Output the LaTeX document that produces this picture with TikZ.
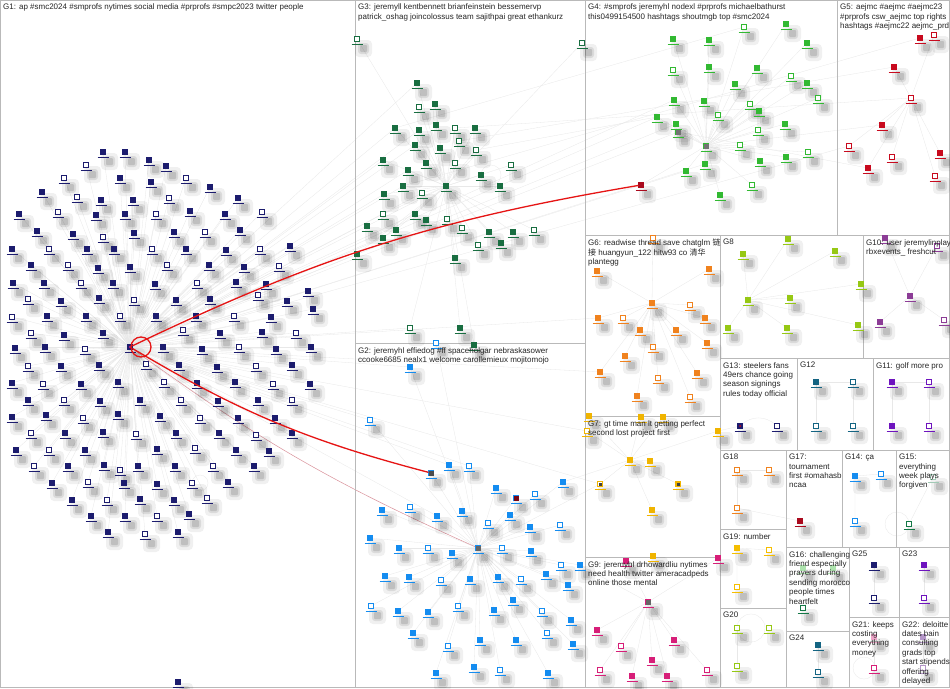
\documentclass[tikz,border=0pt]{standalone}
\usepackage{fontspec}
\setmainfont{Liberation Sans}
\newfontfamily\cjk{Noto Sans CJK SC}
\usetikzlibrary{backgrounds}
\definecolor{frame}{RGB}{185,185,185}
\definecolor{gA}{RGB}{28,28,110}
\definecolor{gB}{RGB}{20,140,240}
\definecolor{gC}{RGB}{25,110,65}
\definecolor{gD}{RGB}{50,185,50}
\definecolor{gE}{RGB}{200,10,30}
\definecolor{gF}{RGB}{240,130,30}
\definecolor{gG}{RGB}{240,180,0}
\definecolor{gH}{RGB}{150,200,20}
\definecolor{gI}{RGB}{215,30,120}
\definecolor{gJ}{RGB}{140,60,150}
\definecolor{gK}{RGB}{20,100,130}
\definecolor{gL}{RGB}{110,20,190}
\definecolor{gM}{RGB}{170,10,30}
\definecolor{gN}{RGB}{20,120,70}
\definecolor{gO}{RGB}{245,190,0}
\definecolor{gP}{RGB}{180,150,200}
\definecolor{redge}{RGB}{230,20,20}
\tikzset{
  vx/.style={rectangle,draw=#1,fill=#1,line width=.8pt,minimum size=5pt,inner sep=0pt,outer sep=0pt},
  lab/.style={anchor=north west,align=left,inner sep=0pt,font=\fontsize{8}{9.4}\selectfont,text=black!85},
  ed/.style={draw=black!9,line width=.3pt},
  rededge/.style={draw=redge,line width=1.3pt},
  frm/.style={draw=frame,line width=1pt},
}
\newcommand\V[5]{%
  \fill[black,opacity=.06,rounded corners=4pt] (#2-2,#3+1) rectangle (#2+15,#3+18);
  \fill[black,opacity=.09,rounded corners=3pt] (#2+1,#3+4) rectangle (#2+12,#3+15);
  \fill[black,opacity=.12,rounded corners=1pt] (#2+3,#3+6) rectangle (#2+10,#3+13);
  \draw[#4,line width=1pt] (#2-5.5,#3+5) -- (#2+5.5,#3+5);
  \ifnum#5=1\relax
    \node[vx=#4,fill=white] (#1) at (#2,#3) {};
  \else
    \node[vx=#4] (#1) at (#2,#3) {};
  \fi}
\newcommand\Lab[6]{%
  \begin{scope}
    \clip (#2,#3) rectangle (#4,#5);
    \node[lab] (#1) at (#2+3,#3+4) {#6};
  \end{scope}}
\begin{document}
\begin{tikzpicture}[x=1pt,y=-1pt]
\useasboundingbox (0,0) rectangle (950,688);
% frames
\draw[frm] (0.5,0.5) rectangle (949.5,687.5);
\draw[frm] (355,0) -- (355,688);
\draw[frm] (585,0) -- (585,688);
\draw[frm] (355,343) -- (585,343);
\draw[frm] (837,0) -- (837,235);
\draw[frm] (585,235) -- (950,235);
\draw[frm] (720,235) -- (720,688);
\draw[frm] (863,235) -- (863,358);
\draw[frm] (720,358) -- (950,358);
\draw[frm] (585,416) -- (720,416);
\draw[frm] (585,557) -- (720,557);
\draw[frm] (797,358) -- (797,450);
\draw[frm] (873,358) -- (873,450);
\draw[frm] (720,450) -- (950,450);
\draw[frm] (786,450) -- (786,688);
\draw[frm] (720,529) -- (786,529);
\draw[frm] (720,608) -- (786,608);
\draw[frm] (842,450) -- (842,547);
\draw[frm] (896,450) -- (896,547);
\draw[frm] (786,547) -- (950,547);
\draw[frm] (849,547) -- (849,688);
\draw[frm] (899,547) -- (899,688);
\draw[frm] (849,617) -- (950,617);
\draw[frm] (786,631) -- (849,631);

% ---------- G1 ----------
\foreach \x/\y [count=\i] in {103/152,125/152,86/165,149/160,166/166,64/178,120/178,151/182,186/178,210/187,
42/192,77/197,101/200,133/200,169/198,238/198,
19/214,58/212,96/215,125/214,156/214,190/211,225/214,262/212,
37/231,73/234,103/237,134/233,174/232,205/232,240/230,
12/249,49/249,87/249,114/249,152/249,186/249,226/250,260/249,290/246,
31/265,68/265,98/268,130/267,167/265,209/265,244/267,279/266,
13/283,44/283,81/283,113/283,155/284,197/283,236/282,266/284,
28/299,61/301,99/298,134/300,176/300,210/299,258/295,287/301,308/291,
12/317,47/316,86/316,120/316,156/316,196/316,234/316,271/317,313/309,
31/333,64/335,103/333,183/330,220/333,262/332,296/333,
15/348,45/347,85/349,163/347,202/349,239/347,276/349,311/347,
28/366,61/366,99/365,146/364,179/365,217/367,256/366,292/365,
12/383,43/384,81/384,118/382,164/382,197/383,235/382,273/384,310/384,
28/400,64/400,100/401,140/400,181/400,218/401,258/400,292/400,
12/417,46/415,83/418,118/414,160/416,200/418,238/418,275/418,
31/433,65/433,103/432,136/434,176/433,219/433,256/435,292/433,
16/450,49/450,85/450,157/449,195/448,236/450,269/451,
34/466,68/466,104/465,120/470,138/466,175/466,213/466,254/466,
52/483,88/482,124/483,157/484,192/483,228/482,
72/500,107/500,140/499,174/500,207/498,
91/516,125/516,157/516,189/514,
108/532,145/534,178/532,178/682}
{\pgfmathtruncatemacro\k{mod(\i,3)==0}\V{a\i}{\x}{\y}{gA}{\k}}
\V{hub}{130}{347}{gA}{0}
\fill[gI] (hub.center) circle (1.1pt);

% ---------- G3 ----------
\foreach \x/\y [count=\i] in {357/39,417/83,435/104,419/107,395/128,436/125,455/128,419/130,475/128,476/150,
415/145,440/148,459/141,383/160,426/163,455/163,408/170,481/175,511/165,384/194,
403/186,422/193,446/186,500/186,383/214,415/214,426/220,447/219,367/226,396/230,
462/228,489/232,513/232,534/230,357/254,383/238,478/245,501/243,455/258,410/328,
460/328,474/345,582/43}
{\pgfmathtruncatemacro\k{mod(\i,3)==1}\V{c\i}{\x}{\y}{gC}{\k}}

% ---------- G4 ----------
\foreach \x/\y [count=\i] in {673/39,709/40,744/27,786/24,807/43,673/70,709/67,757/68,791/76,735/84,
807/83,818/98,674/100,704/101,750/104,657/117,676/124,718/115,759/111,785/124,
758/130,678/132,706/146,740/145,760/161,786/157,808/152,686/171,705/164,752/185,720/195}
{\pgfmathtruncatemacro\k{mod(\i,3)==0}\V{d\i}{\x}{\y}{gD}{\k}}
\V{d32}{641}{185}{gM}{0}
\fill[black!55] ([shift={(-2.5,-2.5)}]d22.center) rectangle ([shift={(2.5,2.5)}]d22.center);
\fill[black!55] ([shift={(-2.5,-2.5)}]d23.center) rectangle ([shift={(2.5,2.5)}]d23.center);

% ---------- G5 ----------
\foreach \x/\y [count=\i] in {920/38,934/35,894/67,911/98,882/125,849/146,940/153,892/157,868/168,935/176}
{\pgfmathtruncatemacro\k{mod(\i,2)==0}\V{e\i}{\x}{\y}{gE}{\k}}

% ---------- G6 ----------
\foreach \x/\y [count=\i] in {597/271,709/269,653/238,652/303,598/318,623/318,640/330,676/330,690/305,705/318,
707/343,653/347,625/356,600/372,658/378,697/373,637/396,690/397}
{\pgfmathtruncatemacro\k{mod(\i,3)==0}\V{f\i}{\x}{\y}{gF}{\k}}

% ---------- G7 ----------
\foreach \x/\y [count=\i] in {589/416,641/417,663/417,587/431,718/431,630/460,650/461,600/484,678/484,652/510,653/556}
{\pgfmathtruncatemacro\k{mod(\i,4)==0}\V{g\i}{\x}{\y}{gG}{\k}}
\fill[black!75] ([shift={(-1.5,-1.5)}]g8.center) rectangle ([shift={(1.5,1.5)}]g8.center);
\fill[black!75] ([shift={(-1.5,-1.5)}]g9.center) rectangle ([shift={(1.5,1.5)}]g9.center);

% ---------- G2 ----------
\foreach \x/\y [count=\i] in {410/367,370/420,431/473,449/465,469/466,496/488,516/498,535/494,563/482,382/510,
410/507,437/516,462/511,488/523,510/515,530/527,560/525,370/538,399/548,428/548,
452/553,478/548,502/548,531/551,580/565,561/565,385/576,409/577,441/580,470/579,
498/577,521/579,546/574,568/585,371/606,398/611,428/612,458/606,494/610,513/600,
542/611,571/620,413/633,448/646,480/640,516/640,547/633,573/644,474/667,500/670,
436/673,548/673,436/343}
{\pgfmathtruncatemacro\k{mod(\i,3)==2}\V{b\i}{\x}{\y}{gB}{\k}}
\fill[black!70] ([shift={(-2.5,-2.5)}]b3.center) rectangle ([shift={(2.5,2.5)}]b3.center);
\fill[gM!70!black] ([shift={(-2.5,-2.5)}]b7.center) rectangle ([shift={(2.5,2.5)}]b7.center);
\fill[black!60] ([shift={(-2.5,-2.5)}]b22.center) rectangle ([shift={(2.5,2.5)}]b22.center);

% ---------- G9 ----------
\foreach \x/\y [count=\i] in {648/602,597/630,621/646,652/660,674/640,600/670,632/676,667/676,707/670,718/558,626/561}
{\pgfmathtruncatemacro\k{mod(\i,3)==0}\V{i\i}{\x}{\y}{gI}{\k}}
\fill[black!60] ([shift={(-2.5,-2.5)}]i1.center) rectangle ([shift={(2.5,2.5)}]i1.center);

% ---------- G8, G10 ----------
\foreach \x/\y [count=\i] in {743/254,788/239,835/251,861/284,748/300,790/298,728/328,787/328,858/325}
{\V{h\i}{\x}{\y}{gH}{0}}
\foreach \x/\y [count=\i] in {885/238,937/246,910/296,944/320,880/322}
{\pgfmathtruncatemacro\k{mod(\i,2)==0}\V{j\i}{\x}{\y}{gJ}{\k}}

% ---------- small groups ----------
\V{m1}{740}{426}{gA}{0}\fill[gE] (m1.center) circle (1pt);
\V{m2}{777}{426}{gA}{1}
\V{p1}{816}{382}{gK}{0}\V{p2}{853}{382}{gK}{1}\V{p3}{816}{426}{gK}{1}\V{p4}{853}{426}{gK}{1}
\V{q1}{892}{382}{gL}{0}\V{q2}{929}{382}{gL}{1}\V{q3}{892}{426}{gL}{0}\V{q4}{929}{426}{gL}{1}
\V{r1}{737}{470}{gF}{1}\V{r2}{769}{470}{gF}{1}\V{r3}{737}{508}{gF}{1}
\V{s1}{800}{521}{gM}{0}
\V{t1}{855}{476}{gB}{0}\V{t2}{881}{474}{gB}{1}\V{t3}{855}{521}{gB}{1}
\V{u1}{909}{524}{gN}{1}\V{u2}{933}{477}{gN!40}{1}
\V{v1}{737}{548}{gO}{0}\V{v2}{769}{550}{gO}{1}\V{v3}{737}{587}{gO}{1}
\V{w1}{737}{628}{gH}{1}\V{w2}{769}{628}{gH}{1}\V{w3}{737}{666}{gH}{1}
\V{x1}{803}{608}{gN}{1}\V{x2}{803}{568}{gD!40}{0}\V{x3}{833}{568}{gD!40}{0}
\V{y1}{818}{645}{gK}{0}\V{y2}{818}{672}{gK}{1}
\V{z1}{874}{565}{gA}{0}\V{z2}{874}{598}{gA}{1}
\V{k1}{924}{565}{gL}{0}\V{k2}{924}{598}{gL}{1}
\V{l1}{874}{668}{gI}{1}\V{l2}{874}{637}{gI!40}{0}
\V{n1}{923}{668}{gP}{1}\V{n2}{923}{637}{gP}{0}

% ---------- edges ----------
\begin{pgfonlayer}{background}
\fill[white] (0,0) rectangle (950,688);
\foreach \i in {1,...,163} {\draw[ed] (hub) -- (a\i);}
\foreach \t in {c2,c5,c8,c11,c14,c17,c20,c21,c25,c29,c35,c36,c22,c26,d13,d16,d17,d22,d28,d29,b1,b2,b4,b5,b12,g4,g8,f5,f14,e6,c40}
  {\draw[ed] (hub) -- (\t);}
\foreach \i in {1,...,22,24,25,...,43} {\draw[ed] (c23) -- (c\i);}
\foreach \i in {1,...,22,24,25,...,32} {\draw[ed] (d23) -- (d\i);}
\foreach \i in {1,...,21,23,24,...,53} {\draw[ed] (b22) -- (b\i);}
\foreach \i in {1,2,3,5,6,...,18} {\draw[ed] (f4) -- (f\i);}
\foreach \i in {2,...,11} {\draw[ed] (i1) -- (i\i);}
\foreach \i in {1,2,3,4,6,7,8,9} {\draw[ed] (h5) -- (h\i);}
\foreach \i in {1,2,4,5} {\draw[ed] (j3) -- (j\i);}
\foreach \i in {2,...,10} {\draw[ed] (e4) -- (e\i);}
\foreach \i in {1,...,5,7,8,9,10} {\draw[ed] (g6) -- (g\i);}
\draw[ed] (c21) -- (e1);
\draw[ed] (c13) -- (e3);
\draw[ed] (c5) -- (d3);
\draw[ed] (c7) -- (e4);
\draw[ed] (d23) -- (e5);
\draw[ed] (d22) -- (e9);
\draw[ed] (c10) -- (d16);
\draw[ed] (b22) -- (g8);
\draw[ed] (b9) -- (g6);
\draw[ed] (b25) -- (i1);
\draw[ed] (g5) -- (m1);
\draw[ed] (p1) -- (p2) (p1) -- (p3) (p2) -- (p4);
\draw[ed] (q1) -- (q2) (q1) -- (q3) (q2) -- (q4);
\draw[ed] (m1) to[bend left=40] (m2);
\draw[ed] (r1) -- (r2) (r1) -- (r3);
\draw[ed] (r3) -- (s1);
\draw[ed] (t1) -- (t2) (t1) -- (t3);
\draw[ed] (u1) -- (u2);
\draw[ed] (v1) -- (v2) (v1) -- (v3);
\draw[ed] (w1) -- (w3);
\draw[ed] (y1) -- (y2);
\draw[ed] (z1) -- (z2);
\draw[ed] (k1) -- (k2);
\draw[ed] (l1) -- (l2);
\draw[ed] (n1) -- (n2);
\draw[ed] (x1) -- (x2) (x1) -- (x3);
\draw[ed] ([xshift=8pt]a150.center) circle (8pt);
\draw[ed] ([xshift=10pt]c18.center) circle (10pt);
\draw[ed] ([xshift=14pt]w1.center) circle (14pt);
\draw[ed] ([xshift=-10pt]l1.center) circle (11pt);
\draw[ed] ([xshift=-12pt]u1.center) circle (12pt);
\draw[draw=gM!45,line width=.5pt] (hub) to[bend right=6] (b22);
\end{pgfonlayer}
\draw[rededge] (hub) to[bend left=8] (d32);
\draw[rededge] (hub) to[bend right=8] (b3);
\draw[rededge] ([xshift=11pt]hub.center) circle (10pt);

% ---------- labels ----------
\Lab{tG1}{0}{0}{355}{343}{G1: ap \#smc2024 \#smprofs nytimes social media \#prprofs \#smpc2023 twitter people}
\Lab{tG3}{355}{0}{585}{343}{G3: jeremyll kentbennett brianfeinstein bessemervp\\patrick\_oshag joincolossus team sajithpai great ethankurz}
\Lab{tG4}{585}{0}{837}{235}{G4: \#smprofs jeremyhl nodexl \#prprofs michaelbathurst\\this0499154500 hashtags shoutmgb top \#smc2024}
\Lab{tG5}{837}{0}{949}{235}{G5: aejmc \#aejmc \#aejmc23\\\#prprofs csw\_aejmc top rights\\hashtags \#aejmc22 aejmc\_prd}
\Lab{tG6}{585}{235}{720}{416}{G6: readwise thread save chatglm {\cjk 链}\\{\cjk 接} huangyun\_122 hitw93 co {\cjk 清华}\\plantegg}
\Lab{tG8}{720}{235}{863}{358}{G8}
\Lab{tG10}{863}{235}{949}{358}{G10: user jeremylinplay\\rbxevents\_ freshcut}
\Lab{tG2}{355}{343}{585}{688}{G2: jeremyhl effiedog \#ff spaceholgar nebraskasower\\ccooke6685 nealx1 welcome carollemieux mojitomojo}
\Lab{tG7}{585}{416}{720}{557}{G7: gt time man lt getting perfect\\second lost project first}
\Lab{tG9}{585}{557}{720}{688}{G9: jeremyhl drhowardliu nytimes\\need health twitter ameracadpeds\\online those mental}
\Lab{tG13}{720}{358}{797}{450}{G13: steelers fans\\49ers chance going\\season signings\\rules today official}
\Lab{tG12}{797}{358}{873}{450}{G12}
\Lab{tG11}{873}{358}{949}{450}{G11: golf more pro}
\Lab{tG18}{720}{450}{786}{529}{G18}
\Lab{tG19}{720}{529}{786}{608}{G19: number}
\Lab{tG20}{720}{608}{786}{688}{G20}
\Lab{tG17}{786}{450}{842}{547}{G17:\\tournament\\first \#omahasb\\ncaa}
\Lab{tG14}{842}{450}{896}{547}{G14: ça}
\Lab{tG15}{896}{450}{949}{547}{G15:\\everything\\week plays\\forgiven}
\Lab{tG16}{786}{547}{849}{631}{G16: challenging\\friend especially\\prayers during\\sending morocco\\people times\\heartfelt}
\Lab{tG24}{786}{631}{849}{688}{G24}
\Lab{tG25}{849}{547}{899}{617}{G25}
\Lab{tG23}{899}{547}{949}{617}{G23}
\Lab{tG21}{849}{617}{899}{688}{G21: keeps\\costing\\everything\\money}
\Lab{tG22}{899}{617}{949}{688}{G22: deloitte\\dates bain\\consulting\\grads top\\start stipends\\offering\\delayed}
\end{tikzpicture}
\end{document}
